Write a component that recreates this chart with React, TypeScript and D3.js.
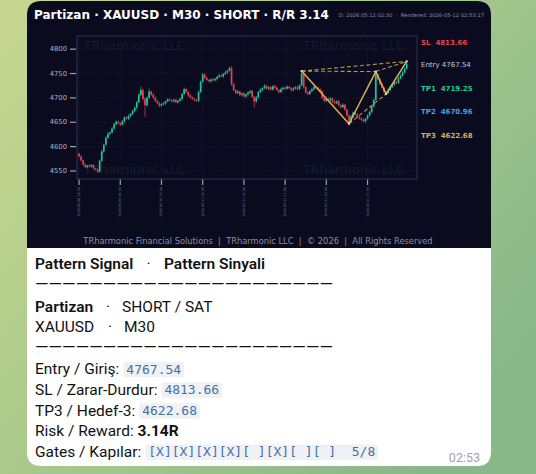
import React, { useLayoutEffect, useRef, useState } from 'react';
import * as d3 from 'd3';

// ---------- DATA ----------
const firstOpen = 4585;
const closes = [
  4580, 4572, 4563, 4558, 4561, 4559, 4562, 4556, 4553, 4549,
  4571, 4590, 4604, 4618, 4626, 4629, 4637, 4646, 4651, 4648,
  4645, 4652, 4660, 4657, 4663, 4667, 4673, 4680, 4691, 4706,
  4716, 4698, 4685, 4700, 4713, 4707, 4701, 4694, 4689, 4684,
  4687, 4689, 4693, 4697, 4695, 4693, 4696, 4691, 4694, 4698,
  4708, 4718, 4712, 4705, 4701, 4698, 4696, 4694, 4712, 4733,
  4748, 4741, 4737, 4734, 4738, 4736, 4739, 4743, 4746, 4744,
  4749, 4752, 4756, 4761, 4728, 4716, 4710, 4713, 4706, 4709,
  4703, 4707, 4711, 4714, 4702, 4693, 4701, 4712, 4717, 4720,
  4725, 4719, 4722, 4717, 4724, 4721, 4716, 4712, 4718, 4721,
  4719, 4723, 4720, 4716, 4719, 4722, 4718, 4726, 4750, 4722,
  4711, 4708, 4714, 4718, 4723, 4721, 4718, 4714, 4700, 4694,
  4698, 4695, 4699, 4692, 4689, 4693, 4685, 4681, 4686, 4676,
  4664, 4651, 4662, 4670, 4666, 4661, 4658, 4655, 4652, 4657,
  4664, 4671, 4682, 4696, 4748, 4738, 4728, 4721, 4712, 4710,
  4716, 4722, 4727, 4733, 4731, 4740, 4746, 4752, 4760, 4770,
];
const wickHi = [
  3, 2, 2, 3, 2, 3, 2, 2, 1, 2,
  2, 3, 2, 3, 4, 2, 3, 2, 3, 2,
  2, 3, 2, 2, 3, 2, 3, 2, 3, 4,
  7, 3, 4, 3, 6, 2, 3, 2, 2, 3,
  2, 3, 2, 2, 3, 2, 2, 3, 2, 3,
  2, 3, 2, 2, 3, 2, 2, 2, 3, 3,
  3, 2, 3, 2, 2, 3, 2, 2, 3, 2,
  2, 3, 2, 3, 4, 3, 2, 3, 2, 2,
  3, 2, 3, 2, 3, 2, 3, 2, 3, 2,
  3, 2, 2, 3, 2, 3, 2, 2, 3, 2,
  2, 3, 2, 2, 3, 2, 3, 2, 5, 4,
  2, 3, 2, 2, 3, 2, 2, 3, 2, 3,
  2, 3, 2, 2, 3, 2, 3, 2, 3, 2,
  2, 2, 3, 2, 2, 3, 2, 2, 3, 2,
  2, 3, 2, 3, 6, 3, 2, 3, 2, 2,
  3, 2, 2, 3, 2, 3, 2, 3, 2, 5,
];
const wickLo = [
  2, 3, 2, 2, 3, 2, 2, 3, 2, 3,
  2, 2, 3, 2, 2, 3, 2, 3, 2, 2,
  3, 2, 3, 2, 2, 3, 2, 2, 3, 2,
  2, 5, 24, 3, 2, 3, 2, 3, 2, 3,
  2, 2, 3, 2, 2, 3, 2, 2, 3, 2,
  3, 2, 2, 3, 2, 2, 3, 2, 3, 2,
  2, 3, 2, 2, 3, 2, 2, 3, 2, 2,
  3, 2, 2, 2, 3, 2, 3, 2, 2, 3,
  2, 3, 2, 3, 2, 13, 3, 2, 2, 3,
  2, 2, 3, 2, 2, 3, 2, 3, 2, 2,
  3, 2, 2, 3, 2, 2, 3, 2, 2, 3,
  2, 3, 2, 2, 3, 2, 2, 3, 2, 3,
  2, 2, 3, 2, 3, 2, 2, 3, 2, 3,
  3, 4, 2, 3, 2, 2, 3, 2, 2, 3,
  2, 2, 3, 2, 2, 3, 2, 2, 3, 2,
  2, 3, 2, 2, 3, 2, 2, 3, 2, 2,
];
const yTicks = [4550, 4600, 4650, 4700, 4750, 4800];
const xTickIdx = [0, 20, 40, 60, 80, 100, 120, 140];
const xTickLabels = [
  '2026-05-08 18:30', '2026-05-09 04:30', '2026-05-10 23:30', '2026-05-11 03:30',
  '2026-05-11 07:30', '2026-05-11 11:30', '2026-05-11 16:30', '2026-05-11 22:30',
];
const patternNames = ['X', 'A', 'B', 'C', 'D'];
const patternIdx = [108, 131, 144, 149, 159];
const patternPrice = [4755, 4647, 4754, 4708, 4775];
const dashedPairs = [[0, 2], [1, 3], [2, 4], [0, 4]];
const levelNames = ['SL', 'Entry', 'TP1', 'TP2', 'TP3'];
const levelValues = [4813.66, 4767.54, 4719.25, 4670.96, 4622.68];

const titleText = 'Partizan · XAUUSD · M30 · SHORT · R/R 3.14';
const stampText = 'D: 2026.05.12 02:30  ·  Rendered: 2026-05-12 02:53:17';
const watermark = 'TRharmonic LLC';
const footerText = 'TRharmonic Financial Solutions  |  TRharmonic LLC  |  © 2026  |  All Rights Reserved';

const infoLabels = ['Entry / Giriş:', 'SL / Zarar-Durdur:', 'TP3 / Hedef-3:', 'Gates / Kapılar:'];
const infoCodes = ['4767.54', '4813.66', '4622.68', '[X][X][X][X][ ][X][ ][ ]  5/8'];
const riskLabel = 'Risk / Reward: ';
const riskValue = '3.14R';
const timeText = '02:53';

// ---------- STYLE ----------
const levelColors: Record<string, string> = {
  SL: '#e8434f', Entry: '#c9c9d3', TP1: '#22c79a', TP2: '#3ba3f2', TP3: '#d6b24a',
};
const UP = '#22c29c';
const DOWN = '#e5404d';
const GOLD = '#d9b24e';
const BG = '#0a0b1e';

export default function App() {
  const W = 536, H = 474;
  const bx0 = 27, bx1 = 491, by0 = 1, imgBottom = 248, by1 = 466;

  const x = d3.scaleLinear().domain([-1, 164]).range([77, 417]);
  const y = d3.scaleLinear().domain([4533.6, 4827]).range([179, 36]);

  const candles = closes.map((c, i) => {
    const o = i === 0 ? firstOpen : closes[i - 1];
    return { i, o, c, h: Math.max(o, c) + wickHi[i], l: Math.min(o, c) - wickLo[i] };
  });

  const pts = patternIdx.map((idx, k) => ({ name: patternNames[k], i: idx, p: patternPrice[k] }));
  const line = d3.line<{ i: number; p: number }>().x(d => x(d.i)).y(d => y(d.p));

  const labelRefs = useRef<(SVGTextElement | null)[]>([]);
  const codeRefs = useRef<(SVGTextElement | null)[]>([]);
  const [lw, setLw] = useState<number[]>(infoLabels.map(() => 0));
  const [cw, setCw] = useState<number[]>(infoCodes.map(() => 0));
  useLayoutEffect(() => {
    setLw(labelRefs.current.map(el => (el ? el.getComputedTextLength() : 0)));
    setCw(codeRefs.current.map(el => (el ? el.getComputedTextLength() : 0)));
  }, []);

  const infoBaselines = [374, 394.7, 415.5, 456.7];
  const textFont = 'Roboto, "Noto Sans", sans-serif';
  const monoFont = '"DejaVu Sans Mono", "Liberation Mono", monospace';
  const chartFont = '"DejaVu Sans", sans-serif';

  const bubblePath = `M${bx0},${by0 + 14} Q${bx0},${by0} ${bx0 + 14},${by0} L${bx1 - 14},${by0} Q${bx1},${by0} ${bx1},${by0 + 14} L${bx1},${by1 - 14} Q${bx1},${by1} ${bx1 - 14},${by1} L${bx0 + 14},${by1} Q${bx0},${by1} ${bx0},${by1 - 14} Z`;

  return (
    <svg width={W} height={H} style={{ position: 'absolute', left: 0, top: 0 }} xmlns="http://www.w3.org/2000/svg">
      <defs>
        <linearGradient id="bg" x1="0" y1="0" x2="1" y2="0.7">
          <stop offset="0" stopColor="#c9d78f" />
          <stop offset="0.5" stopColor="#a9c98b" />
          <stop offset="1" stopColor="#88b78a" />
        </linearGradient>
        <clipPath id="bubble"><path d={bubblePath} /></clipPath>
        <clipPath id="plot"><rect x={77} y={36} width={340} height={143} /></clipPath>
      </defs>
      <rect x={0} y={0} width={W} height={H} fill="url(#bg)" />

      <g clipPath="url(#bubble)">
        <rect x={bx0} y={by0} width={bx1 - bx0} height={by1 - by0} fill="#ffffff" />
        <rect x={bx0} y={by0} width={bx1 - bx0} height={imgBottom - by0} fill={BG} />
      </g>

      {/* title */}
      <text x={34} y={19} fill="#ffffff" fontFamily={chartFont} fontWeight="bold" fontSize={12}>{titleText}</text>
      <text x={484} y={17} fill="#8b8ba3" fontFamily={chartFont} fontSize={5.2} textAnchor="end" style={{ whiteSpace: 'pre' }}>{stampText}</text>

      {/* grid */}
      <g>
        {yTicks.map(t => (
          <line key={'gy' + t} x1={77} x2={417} y1={y(t)} y2={y(t)} stroke="#2a2d47" strokeWidth={0.6} strokeDasharray="1,2" />
        ))}
        {xTickIdx.map(t => (
          <line key={'gx' + t} x1={x(t)} x2={x(t)} y1={36} y2={179} stroke="#2a2d47" strokeWidth={0.6} strokeDasharray="1,2" />
        ))}
      </g>

      {/* watermarks */}
      <g fontFamily={chartFont} fontSize={12.5} fill="#ffffff" fillOpacity={0.07}>
        <text x={84} y={49.5}>{watermark}</text>
        <text x={303} y={49.5}>{watermark}</text>
        <text x={84} y={173.5}>{watermark}</text>
        <text x={303} y={173.5}>{watermark}</text>
      </g>

      {/* candles */}
      <g clipPath="url(#plot)">
        {candles.map(d => {
          const col = d.c >= d.o ? UP : DOWN;
          const top = y(Math.max(d.o, d.c));
          const bot = y(Math.min(d.o, d.c));
          return (
            <g key={d.i}>
              <line x1={x(d.i)} x2={x(d.i)} y1={y(d.h)} y2={y(d.l)} stroke={col} strokeWidth={0.7} />
              <rect x={x(d.i) - 0.85} y={top} width={1.7} height={Math.max(0.7, bot - top)} fill={col} />
            </g>
          );
        })}
      </g>

      {/* pattern */}
      <g>
        {dashedPairs.map(([a, b], k) => (
          <line key={'dp' + k} x1={x(pts[a].i)} y1={y(pts[a].p)} x2={x(pts[b].i)} y2={y(pts[b].p)}
            stroke={GOLD} strokeWidth={1.1} strokeDasharray="4,2.5" strokeOpacity={0.85} />
        ))}
        <path d={line(pts) || ''} fill="none" stroke={GOLD} strokeWidth={1.5} strokeLinejoin="round" />
        {pts.map(p => (
          <rect key={'pm' + p.name} x={x(p.i) - 1} y={y(p.p) - 1} width={2} height={2} fill="#d8d8e0" />
        ))}
      </g>

      {/* plot frame */}
      <rect x={77} y={36} width={340} height={143} fill="none" stroke="#393c55" strokeWidth={0.8} />

      {/* y axis */}
      <g fontFamily={chartFont} fontSize={6.8} fill="#b3b3c4">
        {yTicks.map(t => (
          <g key={'yt' + t}>
            <line x1={70} x2={76} y1={y(t)} y2={y(t)} stroke="#a0a0b0" strokeWidth={1.2} />
            <text x={67} y={y(t)} textAnchor="end" dominantBaseline="central">{t}</text>
          </g>
        ))}
      </g>

      {/* x axis */}
      <g fontFamily={chartFont} fontSize={3.3} fill="#7c7c92">
        {xTickIdx.map((t, k) => (
          <g key={'xt' + t}>
            <line x1={x(t)} x2={x(t)} y1={179.5} y2={185} stroke="#a0a0b0" strokeWidth={1.2} />
            <text x={x(t)} y={187} textAnchor="end" dominantBaseline="central" transform={`rotate(-90, ${x(t)}, 187)`}>{xTickLabels[k]}</text>
          </g>
        ))}
      </g>

      {/* level labels */}
      <g fontFamily={chartFont} fontSize={7}>
        {levelNames.map((n, k) => (
          <text key={'lv' + n} x={421} y={y(levelValues[k])} dominantBaseline="central" fill={levelColors[n]}
            fontWeight={n === 'Entry' ? 'normal' : 'bold'} style={{ whiteSpace: 'pre' }}>
            {(n === 'Entry' ? n + ' ' : n + '  ') + levelValues[k].toFixed(2)}
          </text>
        ))}
      </g>

      {/* footer */}
      <text x={258} y={244} textAnchor="middle" fontFamily={chartFont} fontSize={8.3} fill="#8e8ea6" style={{ whiteSpace: 'pre' }}>{footerText}</text>

      {/* message text */}
      <g fontFamily={textFont} fontSize={15.5} fill="#111111">
        <text x={35} y={269} fontWeight={600}>Pattern Signal</text>
        <text x={146.5} y={269} fill="#222">·</text>
        <text x={164} y={269} fontWeight={600}>Pattern Sinyali</text>

        <text x={35} y={288.5} textLength={298} lengthAdjust="spacingAndGlyphs">{'—'.repeat(22)}</text>

        <text x={35} y={311.7} fontWeight={600}>Partizan</text>
        <text x={106} y={311.7}>·</text>
        <text x={122} y={311.7}>SHORT / SAT</text>

        <text x={35} y={332.3}>XAUUSD</text>
        <text x={108} y={332.3}>·</text>
        <text x={124} y={332.3}>M30</text>

        <text x={35} y={352} textLength={298} lengthAdjust="spacingAndGlyphs">{'—'.repeat(22)}</text>

        {infoLabels.map((lab, k) => {
          const bgX = 35 + lw[k] + 4;
          const b = infoBaselines[k];
          return (
            <g key={'inf' + k}>
              <text ref={el => { labelRefs.current[k] = el; }} x={35} y={b}>{lab}</text>
              <rect x={bgX} y={b - 12.3} width={cw[k] + 6} height={15.5} rx={3} fill="#f0f1f4" />
              <text ref={el => { codeRefs.current[k] = el; }} x={bgX + 3} y={b - 0.5} fontFamily={monoFont} fontSize={13}
                fill="#4670a6" style={{ whiteSpace: 'pre' }}>{infoCodes[k]}</text>
            </g>
          );
        })}

        <text x={35} y={436} style={{ whiteSpace: 'pre' }}>
          {riskLabel}
          <tspan fontWeight={700}>{riskValue}</tspan>
        </text>

        <text x={480} y={461.7} textAnchor="end" fontSize={12.5} fill="#a2a2a6">{timeText}</text>
      </g>
    </svg>
  );
}
